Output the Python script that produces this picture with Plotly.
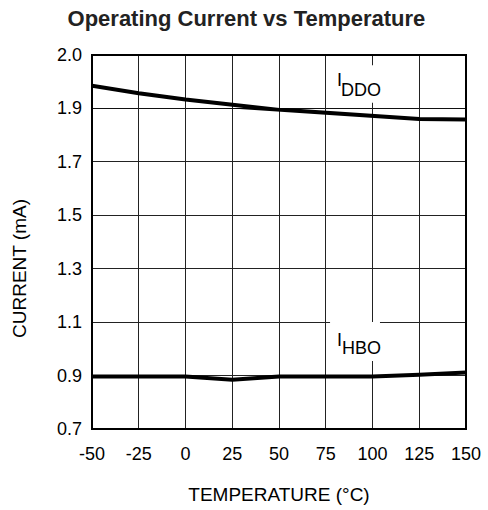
import plotly.graph_objects as go

temperature = [-50, -25, 0, 25, 50, 75, 100, 125, 150]
i_ddo = [1.942, 1.928, 1.916, 1.906, 1.894, 1.884, 1.871, 1.859, 1.857]
i_hbo = [0.896, 0.896, 0.896, 0.884, 0.896, 0.896, 0.896, 0.903, 0.911]

x_ticks = [-50, -25, 0, 25, 50, 75, 100, 125, 150]
y_ticks_low = [0.7, 0.9, 1.1, 1.3, 1.5, 1.7, 1.9]
y_ticks_high = [2.0]

FONT = "Liberation Sans, Arial, sans-serif"
LINE = dict(color="black", width=4)
SPLIT = 321 / 374  # broken axis: 0.7-1.9 band below, 1.9-2.0 band above

fig = go.Figure()
# I_DDO spans both bands of the broken axis
fig.add_trace(go.Scatter(x=temperature, y=i_ddo, mode="lines", line=LINE,
                         xaxis="x", yaxis="y", showlegend=False, hoverinfo="skip"))
fig.add_trace(go.Scatter(x=temperature, y=i_ddo, mode="lines", line=LINE,
                         xaxis="x", yaxis="y2", showlegend=False, hoverinfo="skip"))
fig.add_trace(go.Scatter(x=temperature, y=i_hbo, mode="lines", line=LINE,
                         xaxis="x", yaxis="y2", showlegend=False, hoverinfo="skip"))

grid = dict(showgrid=True, gridcolor="#222", gridwidth=1.2, zeroline=False, showline=False,
            automargin=False)

fig.update_layout(
    width=488, height=510,
    margin=dict(l=92, r=22, t=55, b=81),
    paper_bgcolor="white", plot_bgcolor="white",
    font=dict(family=FONT, color="black", size=18),
    title=dict(text="<b>Operating Current vs Temperature</b>", x=0.505, xanchor="center",
               y=0.964, yanchor="middle", font=dict(size=22, color="#222", family=FONT),
               automargin=False),
    xaxis=dict(range=[-50, 150], tickvals=x_ticks, ticktext=[str(v) for v in x_ticks],
               anchor="y2", ticks="", ticklabelstandoff=12,
               title=dict(text="TEMPERATURE (°C)", standoff=24, font=dict(size=19)),
               tickfont=dict(size=18), **grid),
    yaxis=dict(range=[1.9, 2.0], domain=[SPLIT, 1], tickvals=y_ticks_high,
               ticktext=["2.0"], ticks="", ticklabelstandoff=9, anchor="x",
               tickfont=dict(size=18), zeroline=False, showgrid=False, showline=False,
               automargin=False),
    yaxis2=dict(range=[0.7, 1.9], domain=[0, SPLIT], tickvals=y_ticks_low,
                ticktext=[f"{v:.1f}" for v in y_ticks_low], ticks="", ticklabelstandoff=9,
                anchor="x", tickfont=dict(size=18),
                title=dict(text="CURRENT (mA)", standoff=25, font=dict(size=19)),
                **grid),
)

# White boxes breaking the 100 °C gridline behind the labels
fig.add_shape(type="rect", xref="x", yref="y", x0=77.3, x1=104, y0=1.9099, y1=1.9808,
              fillcolor="white", line=dict(width=0), layer="above")
fig.add_shape(type="rect", xref="x", yref="y2", x0=77.3, x1=104, y0=0.9544, y1=1.1004,
              fillcolor="white", line=dict(width=0), layer="above")
# 1.9 gridline at the band join
fig.add_shape(type="line", xref="paper", yref="y2", x0=0, x1=1, y0=1.9, y1=1.9,
              line=dict(color="#111", width=2), layer="below")
# plot frame
fig.add_shape(type="rect", xref="paper", yref="paper", x0=0, x1=1, y0=0, y1=1,
              line=dict(color="black", width=2), layer="above")

lab = dict(showarrow=False, xanchor="left", yanchor="middle", font=dict(size=18, color="black"))
fig.add_annotation(x=80, y=1.9528, xref="x", yref="y", text="I", **lab)
fig.add_annotation(x=82.3, y=1.934, xref="x", yref="y", text="DDO", **lab)
fig.add_annotation(x=80, y=1.034, xref="x", yref="y2", text="I", **lab)
fig.add_annotation(x=82.8, y=1.0017, xref="x", yref="y2", text="HBO", **lab)

fig.write_html("out.html", config={"displayModeBar": False},
               post_script="document.body.style.margin='0';document.body.style.padding='0';")
